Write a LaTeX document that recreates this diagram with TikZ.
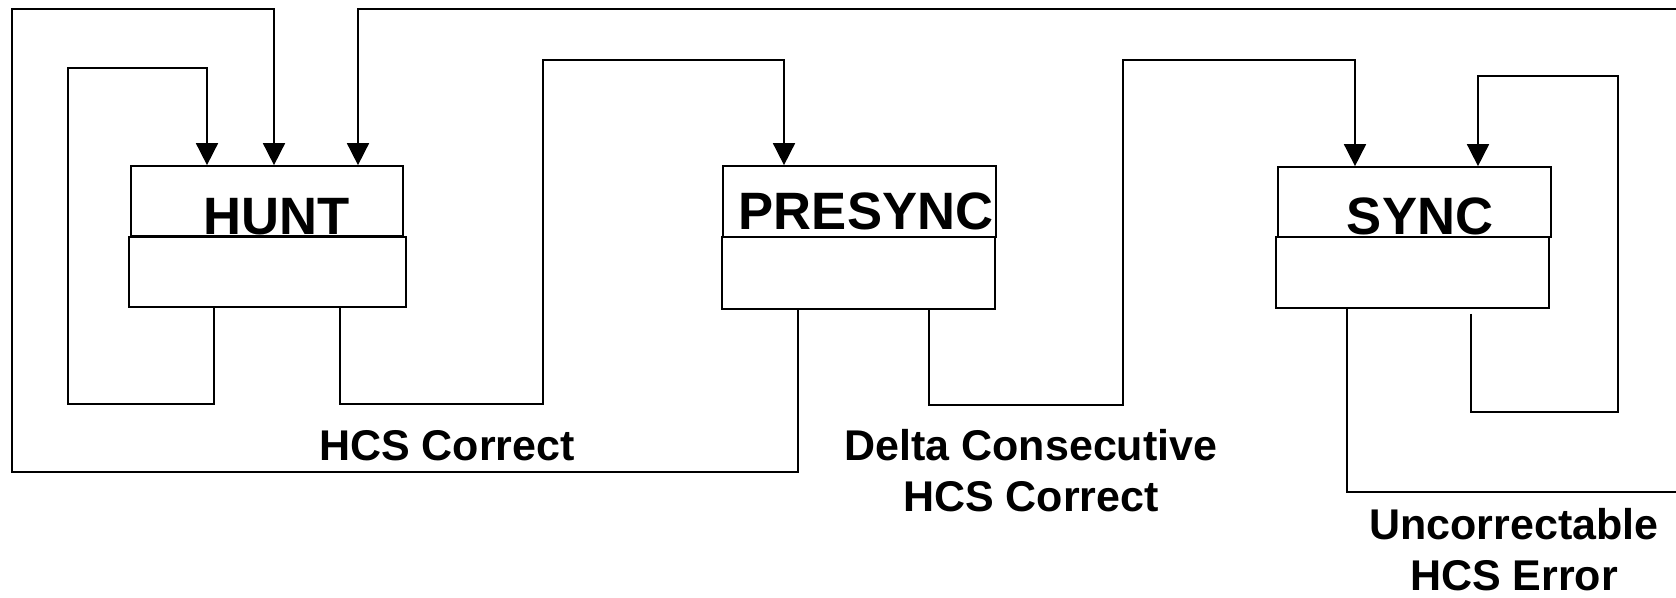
\documentclass[tikz,border=0pt]{standalone}
\usepackage{fontspec}
\setmainfont{Liberation Sans}
\usetikzlibrary{arrows.meta}
\begin{document}
\begin{tikzpicture}[x=0.5pt,y=-0.5pt, line width=0.85pt,
  stbox/.style={draw, rectangle, inner sep=0pt, fill=white},
  arr/.style={-{Triangle[length=11pt,width=11pt]}},
  boxlbl/.style={font=\fontsize{26.3}{30}\selectfont\bfseries, inner sep=0pt, anchor=base},
  edgelbl/.style={font=\fontsize{21.5}{25}\selectfont\bfseries, inner sep=0pt, anchor=base}]
\useasboundingbox (0,0) rectangle (1676,598);
\coordinate (eTop) at (1676,9);
\coordinate (eBot) at (1676,492);
% top boxes
\node[stbox, minimum width=136pt, minimum height=35pt] (huntT) at (267,201) {};
\node[stbox, minimum width=136.5pt, minimum height=35.5pt] (preT) at (859.5,201.5) {};
\node[stbox, minimum width=136.5pt, minimum height=35pt] (syncT) at (1414.5,202) {};
% box labels
\node[boxlbl] (huntL) at (277,235) {HUNT};
\node[boxlbl] (preL) at (866,229.5) {PRESYNC};
\node[boxlbl] (syncL) at (1420,235) {SYNC};
% bottom boxes
\node[stbox, minimum width=138.5pt, minimum height=35pt] (huntB) at (267.5,272) {};
\node[stbox, minimum width=136.5pt, minimum height=36pt] (preB) at (858.5,273) {};
\node[stbox, minimum width=136.5pt, minimum height=35.5pt] (syncB) at (1412.5,272.5) {};
% connectors
\draw[arr] (huntB.south -| 214,0) -- (214,404) -- (68,404) -- (68,68) -- (207,68) -- (huntT.north -| 207,0);
\draw[arr] (preB.south -| 798,0) -- (798,472) -- (12,472) -- (12,9) -- (274,9) -- (huntT.north -| 274,0);
\draw[arr] (huntB.south -| 340,0) -- (340,404) -- (543,404) -- (543,60) -- (784,60) -- (preT.north -| 784,0);
\draw[arr] (eTop) -- (358,9) -- (huntT.north -| 358,0);
\draw[arr] (preB.south -| 929,0) -- (929,405) -- (1123,405) -- (1123,60) -- (1355,60) -- (syncT.north -| 1355,0);
\draw[arr] ([yshift=-2.5pt]syncB.south -| 1471,0) -- (1471,412) -- (1618,412) -- (1618,76) -- (1478,76) -- (syncT.north -| 1478,0);
\draw (syncB.south -| 1347,0) -- (1347,492) -- (eBot);
% edge labels
\node[edgelbl] (l1) at (447,460) {HCS Correct};
\node[edgelbl] (l2a) at (1031,461) {Delta Consecutive};
\node[edgelbl] (l2b) at (1031,511) {HCS Correct};
\node[edgelbl] (l3a) at (1514,539) {Uncorrectable};
\node[edgelbl] (l3b) at (1514,590) {HCS Error};
\end{tikzpicture}
\end{document}
